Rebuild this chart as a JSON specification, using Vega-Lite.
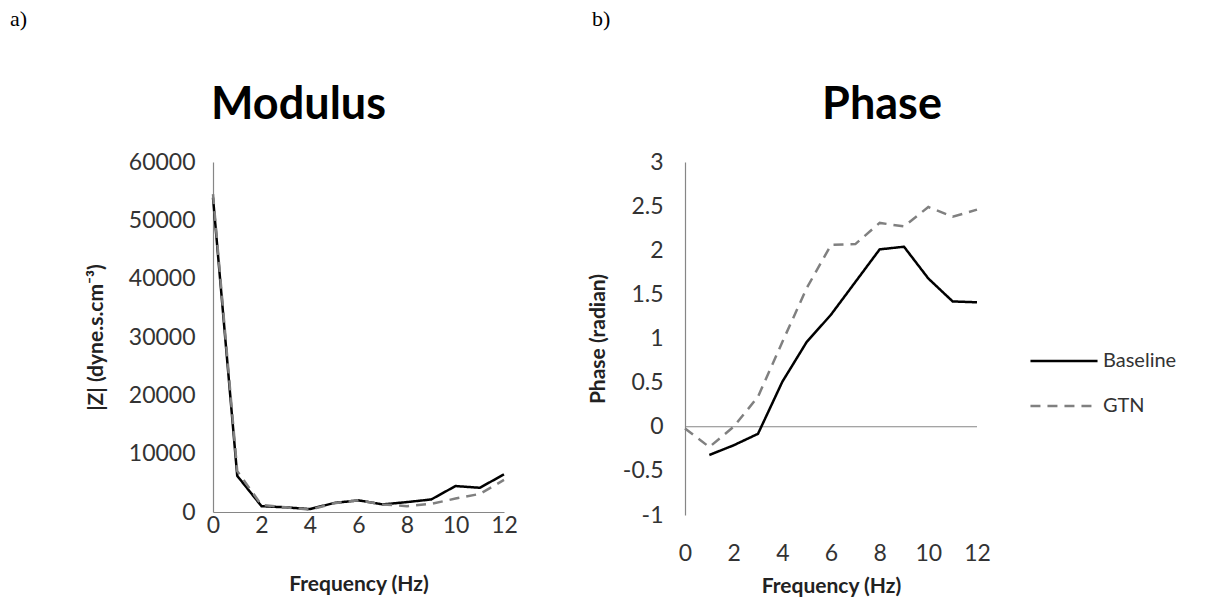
{
  "$schema": "https://vega.github.io/schema/vega-lite/v6.json",
  "background": "white",
  "padding": {"left": 10, "top": 8, "right": 5, "bottom": 5},
  "spacing": 69,
  "config": {
    "view": {"stroke": null},
    "font": "Lato",
    "axis": {
      "domainColor": "#868686",
      "domainWidth": 1.2,
      "ticks": false,
      "grid": false,
      "labelFlush": false,
      "labelFont": "Lato",
      "labelFontSize": 23,
      "labelColor": "#333333",
      "titleFont": "Lato",
      "titleFontSize": 21,
      "titleFontWeight": "bold",
      "titleColor": "#222222"
    },
    "title": {"font": "Lato", "color": "#000000"}
  },
  "datasets": {
    "modulus": [
      {"hz": 0, "series": "Baseline", "z": 53900},
      {"hz": 1, "series": "Baseline", "z": 6200},
      {"hz": 2, "series": "Baseline", "z": 1000},
      {"hz": 3, "series": "Baseline", "z": 800},
      {"hz": 4, "series": "Baseline", "z": 500},
      {"hz": 5, "series": "Baseline", "z": 1550},
      {"hz": 6, "series": "Baseline", "z": 2000},
      {"hz": 7, "series": "Baseline", "z": 1300},
      {"hz": 8, "series": "Baseline", "z": 1700},
      {"hz": 9, "series": "Baseline", "z": 2150},
      {"hz": 10, "series": "Baseline", "z": 4450},
      {"hz": 11, "series": "Baseline", "z": 4150},
      {"hz": 12, "series": "Baseline", "z": 6450},
      {"hz": 0, "series": "GTN", "z": 54500},
      {"hz": 1, "series": "GTN", "z": 7000},
      {"hz": 2, "series": "GTN", "z": 1200},
      {"hz": 3, "series": "GTN", "z": 800},
      {"hz": 4, "series": "GTN", "z": 400},
      {"hz": 5, "series": "GTN", "z": 1500},
      {"hz": 6, "series": "GTN", "z": 2000},
      {"hz": 7, "series": "GTN", "z": 1300},
      {"hz": 8, "series": "GTN", "z": 1000},
      {"hz": 9, "series": "GTN", "z": 1400},
      {"hz": 10, "series": "GTN", "z": 2300},
      {"hz": 11, "series": "GTN", "z": 3100},
      {"hz": 12, "series": "GTN", "z": 5500}
    ],
    "phase": [
      {"hz": 1, "series": "Baseline", "p": -0.32},
      {"hz": 2, "series": "Baseline", "p": -0.21},
      {"hz": 3, "series": "Baseline", "p": -0.08},
      {"hz": 4, "series": "Baseline", "p": 0.51},
      {"hz": 5, "series": "Baseline", "p": 0.96},
      {"hz": 6, "series": "Baseline", "p": 1.27},
      {"hz": 7, "series": "Baseline", "p": 1.64},
      {"hz": 8, "series": "Baseline", "p": 2.01},
      {"hz": 9, "series": "Baseline", "p": 2.04},
      {"hz": 10, "series": "Baseline", "p": 1.68},
      {"hz": 11, "series": "Baseline", "p": 1.42},
      {"hz": 12, "series": "Baseline", "p": 1.41},
      {"hz": 0, "series": "GTN", "p": -0.02},
      {"hz": 1, "series": "GTN", "p": -0.23},
      {"hz": 2, "series": "GTN", "p": 0.0},
      {"hz": 3, "series": "GTN", "p": 0.34},
      {"hz": 4, "series": "GTN", "p": 0.96},
      {"hz": 5, "series": "GTN", "p": 1.57},
      {"hz": 6, "series": "GTN", "p": 2.06},
      {"hz": 7, "series": "GTN", "p": 2.07},
      {"hz": 8, "series": "GTN", "p": 2.31},
      {"hz": 9, "series": "GTN", "p": 2.27},
      {"hz": 10, "series": "GTN", "p": 2.49},
      {"hz": 11, "series": "GTN", "p": 2.38},
      {"hz": 12, "series": "GTN", "p": 2.46}
    ]
  },
  "resolve": {"legend": {"color": "independent", "strokeDash": "independent"}},
  "hconcat": [
    {
      "title": {"text": "a)", "anchor": "start", "frame": "group", "font": "Liberation Serif", "fontSize": 22, "fontWeight": "normal", "dx": -203, "offset": 52},
      "vconcat": [
        {
          "title": {"text": "Modulus", "fontSize": 45, "fontWeight": "bold", "offset": 23, "dx": -60},
          "width": 291,
          "height": 350,
          "data": {"name": "modulus"},
          "mark": {"type": "line", "strokeWidth": 2.5},
          "encoding": {
            "x": {"field": "hz", "type": "quantitative", "scale": {"domain": [0, 12], "nice": false},
                  "axis": {"values": [0, 2, 4, 6, 8, 10, 12], "title": "Frequency (Hz)", "labelPadding": 2, "titlePadding": 36}},
            "y": {"field": "z", "type": "quantitative", "scale": {"domain": [0, 60000], "nice": false},
                  "axis": {"values": [0, 10000, 20000, 30000, 40000, 50000, 60000], "format": "d", "title": "|Z|  (dyne.s.cm⁻³)", "labelPadding": 18, "titlePadding": 22}},
            "color": {"field": "series", "type": "nominal", "scale": {"domain": ["Baseline", "GTN"], "range": ["#000000", "#808080"]}, "legend": null},
            "strokeDash": {"field": "series", "type": "nominal", "scale": {"domain": ["Baseline", "GTN"], "range": [[1, 0], [10, 7]]}, "legend": null}
          }
        }
      ]
    },
    {
      "title": {"text": "b)", "anchor": "start", "frame": "group", "font": "Liberation Serif", "fontSize": 22, "fontWeight": "normal", "dx": -93, "offset": 52},
      "vconcat": [
        {
          "title": {"text": "Phase", "fontSize": 45, "fontWeight": "bold", "offset": 23, "dx": 51},
          "width": 292,
          "height": 353,
          "layer": [
            {
              "data": {"values": [{"zero": 0}]},
              "mark": {"type": "rule", "color": "#868686", "strokeWidth": 1.2},
              "encoding": {"y": {"field": "zero", "type": "quantitative"}}
            },
            {
              "data": {"name": "phase"},
              "mark": {"type": "line", "strokeWidth": 2.5},
              "encoding": {
                "x": {"field": "hz", "type": "quantitative", "scale": {"domain": [0, 12], "nice": false},
                      "axis": {"values": [0, 2, 4, 6, 8, 10, 12], "title": "Frequency (Hz)", "domain": false, "labelPadding": 27, "titlePadding": 10}},
                "y": {"field": "p", "type": "quantitative", "scale": {"domain": [-1, 3], "nice": false},
                      "axis": {"values": [-1, -0.5, 0, 0.5, 1, 1.5, 2, 2.5, 3], "labelExpr": "'' + datum.value", "title": "Phase (radian)", "labelPadding": 22, "titlePadding": 14}},
                "color": {"field": "series", "type": "nominal", "scale": {"domain": ["Baseline", "GTN"], "range": ["#000000", "#808080"]},
                          "legend": {"orient": "none", "legendX": 344, "legendY": 164, "title": null, "symbolType": "stroke", "symbolSize": 4500, "symbolStrokeWidth": 2.5, "labelFont": "Lato", "labelFontSize": 20, "labelColor": "#333333", "labelOffset": 4, "rowPadding": -3}},
                "strokeDash": {"field": "series", "type": "nominal", "scale": {"domain": ["Baseline", "GTN"], "range": [[1, 0], [10, 7]]},
                          "legend": {"orient": "none", "legendX": 344, "legendY": 164, "title": null, "symbolType": "stroke", "symbolSize": 4500, "symbolStrokeWidth": 2.5, "labelFont": "Lato", "labelFontSize": 20, "labelColor": "#333333", "labelOffset": 4, "rowPadding": -3}}
              }
            }
          ]
        }
      ]
    }
  ]
}
